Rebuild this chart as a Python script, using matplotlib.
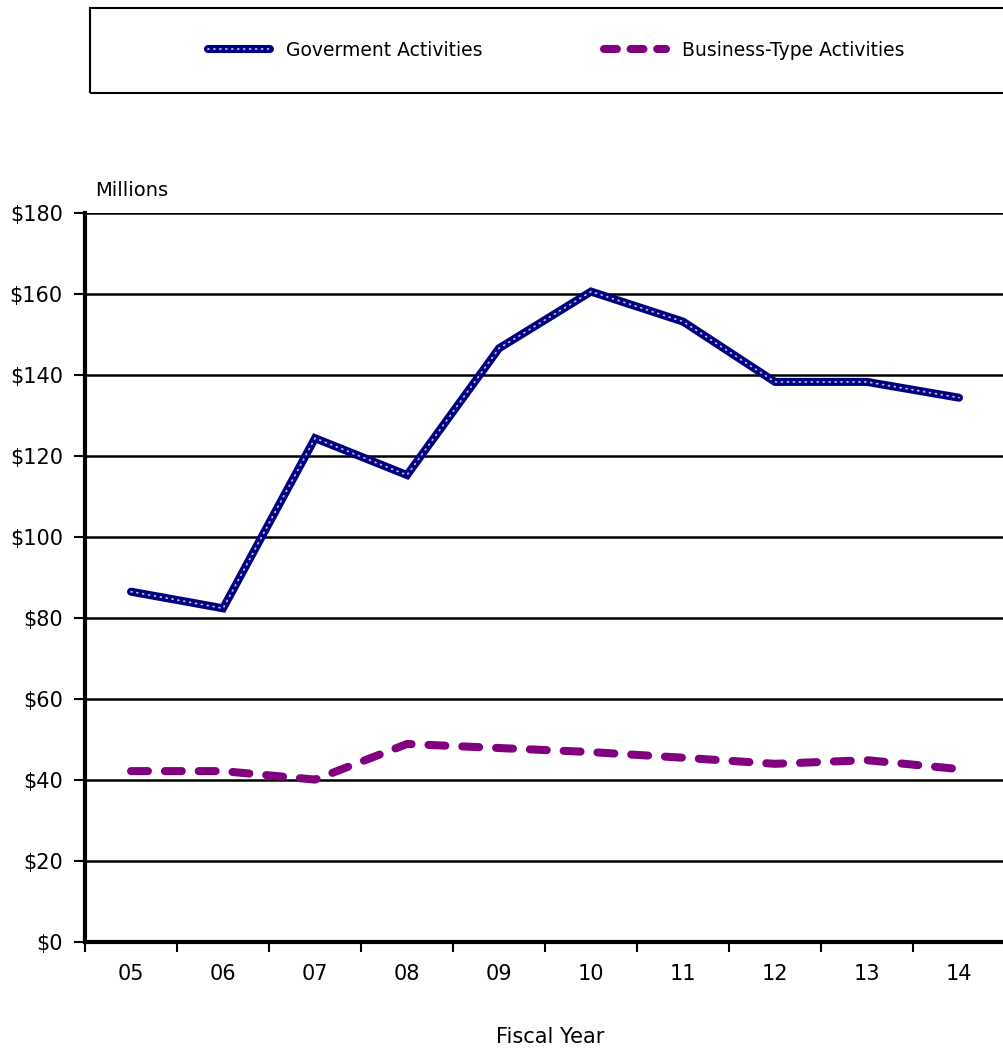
import matplotlib
matplotlib.use("Agg")
import matplotlib.pyplot as plt
from matplotlib.patches import Rectangle
from matplotlib.lines import Line2D
from matplotlib.legend_handler import HandlerTuple

# fiscal years and values (millions)
years = ["05", "06", "07", "08", "09", "10", "11", "12", "13", "14"]
gov = [86.5, 82.4, 124.4, 115.3, 146.6, 160.6, 153.2, 138.3, 138.3, 134.4]
biz = [42.2, 42.2, 40.1, 48.9, 47.9, 46.9, 45.5, 44.0, 44.9, 42.7]
yticks = [0, 20, 40, 60, 80, 100, 120, 140, 160, 180]

plt.rcParams['font.family'] = ['DejaVu Sans']

fig = plt.figure(figsize=(10.04, 10.53), dpi=100)
ax = fig.add_axes([0.0847, 0.1054, 0.9163, 0.6923])

x = list(range(len(years)))

# government line: navy band with small white dots inside
g1, = ax.plot(x, gov, color="#000080", lw=5.8, solid_capstyle="round",
              solid_joinstyle="miter", zorder=3)
g2, = ax.plot(x, gov, color="white", lw=1.3, ls=(0, (0.5, 2.8)),
              dash_capstyle="round", alpha=0.75, zorder=4)
ax.plot(x, biz, color="#800080", lw=5.8, ls=(0, (2.1, 2.1)),
        dash_capstyle="round", zorder=3)

ax.set_xlim(-0.5, len(years) - 0.5)
ax.set_ylim(0, 180)
ax.set_yticks(yticks)
ax.set_yticklabels([f"${v}" for v in yticks], fontsize=15)
ax.set_xticks(x)
ax.set_xticklabels(years, fontsize=15)
ax.set_xticks([i - 0.5 for i in range(len(years) + 1)], minor=True)
ax.tick_params(axis="x", which="major", length=0, pad=16)
ax.tick_params(axis="x", which="minor", length=7, width=1.5, direction="out")
ax.tick_params(axis="y", length=8, width=1.5, direction="out", pad=8)

ax.grid(axis="y", color="black", lw=1.8)
ax.set_axisbelow(True)
for s in ["top", "right"]:
    ax.spines[s].set_visible(False)
ax.spines["left"].set_linewidth(3)
ax.spines["bottom"].set_linewidth(3)

fig.text(95 / 1004, 1 - 191 / 1053, "Millions", fontsize=14, va="center", ha="left")
fig.text(550 / 1004, 1 - 1037 / 1053, "Fiscal Year", fontsize=15, va="center", ha="center")

# legend box
fig.patches.append(Rectangle((90 / 1004, 1 - 93 / 1053), 0.95, 85 / 1053,
                             transform=fig.transFigure, fill=False,
                             edgecolor="black", lw=1.5))
# shorter dashes for the legend sample
biz_key = Line2D([], [], color="#800080", lw=5.8, ls=(0, (1.6, 1.7)),
                 dash_capstyle="round")
fig.legend([(g1, g2), biz_key], ["Goverment Activities", "Business-Type Activities"],
           handler_map={tuple: HandlerTuple(ndivide=1, pad=0)},
           loc="center", bbox_to_anchor=(556 / 1004, 1 - 50 / 1053),
           ncol=2, frameon=False, fontsize=13.5, handlelength=3.3,
           columnspacing=6.5, handletextpad=0.85)

fig.savefig("out.png", dpi=100)
